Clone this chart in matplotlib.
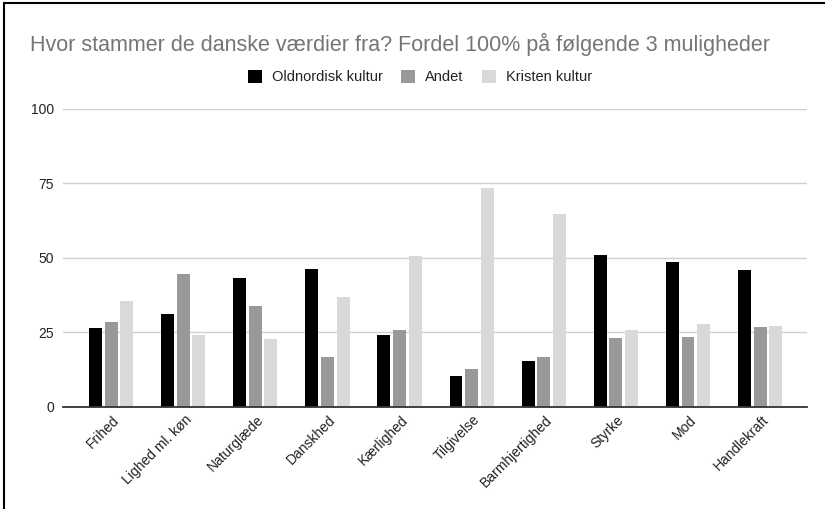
import numpy as np
import matplotlib.pyplot as plt
import matplotlib.transforms as mtrans
from matplotlib.lines import Line2D

plt.rcParams['font.family'] = ['Liberation Sans', 'DejaVu Sans']

# values
categories = ['Frihed', 'Lighed ml. køn', 'Naturglæde', 'Danskhed', 'Kærlighed',
              'Tilgivelse', 'Barmhjertighed', 'Styrke', 'Mod', 'Handlekraft']
oldnordisk = [26.3, 31.2, 43.0, 46.1, 24.0, 10.3, 15.2, 50.9, 48.5, 45.8]
andet = [28.3, 44.4, 33.7, 16.6, 25.6, 12.7, 16.7, 23.1, 23.5, 26.8]
kristen = [35.3, 24.0, 22.8, 36.9, 50.4, 73.4, 64.6, 25.6, 27.7, 27.2]
series_names = ['Oldnordisk kultur', 'Andet', 'Kristen kultur']
colors = ['#000000', '#999999', '#d9d9d9']

fig = plt.figure(figsize=(8.25, 5.09), dpi=100)
ax = fig.add_axes([0.0764, 0.201, 0.9016, 0.5858])

x = np.arange(len(categories))
w = 0.18
step = 0.217
for i, (vals, name, c) in enumerate(zip([oldnordisk, andet, kristen], series_names, colors)):
    ax.bar(x + (i - 1) * step, vals, w, color=c, label=name, zorder=3)

ax.set_ylim(0, 100)
ax.set_xlim(-0.666, 9.648)
ax.set_yticks([0, 25, 50, 75, 100])
ax.grid(axis='y', color='#d0d0d0', linewidth=1, zorder=0)
for s in ['top', 'right', 'left']:
    ax.spines[s].set_visible(False)
ax.spines['bottom'].set_color('#333333')
ax.spines['bottom'].set_linewidth(1.3)
ax.spines['bottom'].set_zorder(4)
ax.tick_params(axis='both', length=0, labelcolor='#222222')
ax.tick_params(axis='y', pad=6.5, labelsize=10)
ax.set_xticks(x)
ax.set_xticklabels(categories, rotation=45, ha='right', va='center', rotation_mode='anchor')
ax.tick_params(axis='x', pad=8, labelsize=10)
shift = mtrans.ScaledTranslation(6 / 100, 0, fig.dpi_scale_trans)
for lbl in ax.get_xticklabels():
    lbl.set_transform(lbl.get_transform() + shift)

fig.text(30 / 825, 1 - 44 / 509, 'Hvor stammer de danske værdier fra? Fordel 100% på følgende 3 muligheder',
         fontsize=15.5, color='#757575', va='center', ha='left')

fig.legend(loc='center', bbox_to_anchor=(420 / 825, 1 - 77 / 509), ncol=3, frameon=False,
           fontsize=10.5, handlelength=0.96, handleheight=0.96, handletextpad=0.68,
           columnspacing=1.27, labelcolor='#222222')

# screenshot border on top and left
fig.add_artist(Line2D([4 / 825, 1], [1 - 2.5 / 509, 1 - 2.5 / 509], color='black', lw=1.5))
fig.add_artist(Line2D([4 / 825, 4 / 825], [0, 1 - 2.5 / 509], color='black', lw=1.5))

fig.savefig('out.png', dpi=100)
